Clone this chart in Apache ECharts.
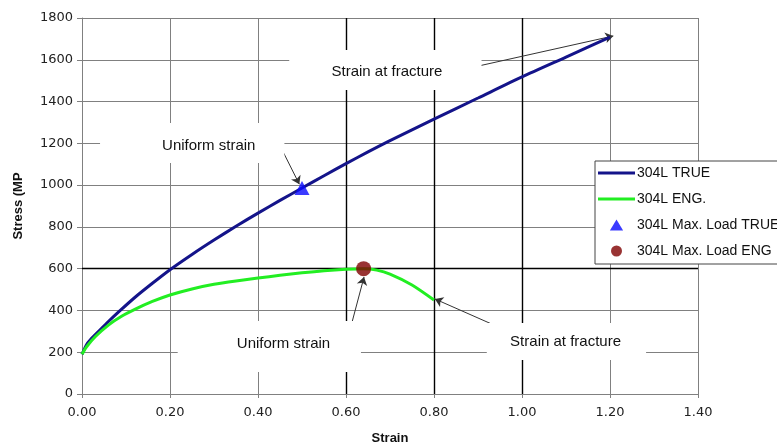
<!DOCTYPE html>
<html><head><meta charset="utf-8">
<script src="https://cdn.jsdelivr.net/npm/echarts@6/dist/echarts.min.js"></script>
<style>html,body{margin:0;padding:0;background:#fff}#c{width:777px;height:443px}</style>
</head><body><div id="c"></div>
<script>
// ---- data ----
const trueStrain = [0, 0.01, 0.02, 0.04, 0.06, 0.087, 0.12, 0.16, 0.2, 0.25, 0.3, 0.35, 0.4, 0.45, 0.5, 0.55, 0.6, 0.65, 0.7, 0.8, 0.9, 1.0, 1.1, 1.2];
const trueStress = [190, 235, 262, 305, 347, 400, 462, 530, 595, 668, 737, 803, 866, 927, 986, 1045, 1103, 1159, 1213, 1316, 1417, 1518, 1613, 1708];
const engStrain = [0, 0.01, 0.03, 0.06, 0.09, 0.12, 0.16, 0.2, 0.25, 0.3, 0.35, 0.4, 0.45, 0.5, 0.55, 0.6, 0.64, 0.67, 0.7, 0.75, 0.8];
const engStress = [190, 225, 274, 330, 372, 405, 443, 474, 503, 525, 541, 555, 568, 580, 590, 597, 600, 593, 574, 522, 450];
const maxLoadTrue = [[0.5, 986]];
const maxLoadEng = [[0.64, 600]];
const seriesNames = ['304L TRUE', '304L ENG.', '304L Max. Load TRUE', '304L Max. Load ENG'];
const xTickLabels = ['0.00', '0.20', '0.40', '0.60', '0.80', '1.00', '1.20', '1.40'];
const emphasisX = [0.6, 0.8, 1.0];
const emphasisY = [600];
// annotations (data coordinates)
const notes = [
  {text: 'Strain at fracture', at: [0.693, 1541], box: [[0.471, 1647], [0.908, 1455]], arrow: [[0.890, 1565], [1.2075, 1714]]},
  {text: 'Uniform strain', at: [0.288, 1187], box: [[0.041, 1297], [0.46, 1106]], arrow: [[0.455, 1168], [0.494, 1004]]},
  {text: 'Uniform strain', at: [0.458, 239], box: [[0.2175, 349], [0.634, 105]], arrow: [[0.612, 330], [0.641, 560]]},
  {text: 'Strain at fracture', at: [1.099, 249], box: [[0.92, 340], [1.282, 163]], arrow: [[0.9515, 316], [0.802, 455]]}
];

const zip = (a, b) => a.map((v, i) => [v, b[i]]);
const chart = echarts.init(document.getElementById('c'), null, {renderer: 'canvas'});
const tickFont = {fontFamily: 'DejaVu Sans', fontSize: 13, color: '#222'};
const lineIcon = 'path://M0,0 L37,0 L37,3 L0,3 Z';
const triIcon = 'path://M6,0 L12,10 L0,10 Z';

chart.setOption({
  animation: false,
  backgroundColor: '#fff',
  grid: {left: 82, top: 18, right: 79, bottom: 49, containLabel: false, outerBoundsMode: 'none'},
  xAxis: {
    type: 'value', min: 0, max: 1.4, interval: 0.2,
    name: 'Strain', nameLocation: 'middle', nameGap: 38,
    nameTextStyle: {fontFamily: 'Liberation Sans', fontWeight: 'bold', fontSize: 13, color: '#111'},
    axisLine: {show: true, lineStyle: {color: '#808080', width: 1}},
    axisTick: {show: true, inside: false, length: 4, lineStyle: {color: '#808080'}},
    axisLabel: Object.assign({margin: 12, formatter: (v) => xTickLabels[Math.round(v / 0.2)]}, tickFont),
    splitLine: {show: true, lineStyle: {color: '#808080', width: 1}}
  },
  yAxis: {
    type: 'value', min: 0, max: 1800, interval: 200,
    name: 'Stress (MP', nameLocation: 'middle', nameGap: 57,
    nameTextStyle: {fontFamily: 'Liberation Sans', fontWeight: 'bold', fontSize: 13, color: '#111'},
    axisLine: {show: true, lineStyle: {color: '#808080', width: 1}},
    axisTick: {show: true, inside: false, length: 5, lineStyle: {color: '#808080'}},
    axisLabel: Object.assign({margin: 9, formatter: (v) => String(v)}, tickFont),
    splitLine: {show: true, lineStyle: {color: '#808080', width: 1}}
  },
  legend: {
    orient: 'vertical', left: 595, top: 161,
    padding: [5, 4, 6, 3], itemGap: 12, itemWidth: 37, itemHeight: 11,
    backgroundColor: '#fff', borderColor: '#444', borderWidth: 1,
    itemStyle: {borderWidth: 0},
    textStyle: {fontFamily: 'Liberation Sans', fontSize: 14, color: '#111', padding: [0, 0, 0, -3]},
    data: [
      {name: seriesNames[0], icon: lineIcon},
      {name: seriesNames[1], icon: lineIcon},
      {name: seriesNames[2], icon: triIcon},
      {name: seriesNames[3], icon: 'circle'}
    ]
  },
  series: [
    {type: 'line', name: '_emph', data: [], z: 2, silent: true,
     markLine: {symbol: 'none', silent: true, label: {show: false}, animation: false,
       lineStyle: {color: '#000', width: 1.4, type: 'solid'},
       data: emphasisX.map(v => ({xAxis: v})).concat(emphasisY.map(v => ({yAxis: v})))}},
    {type: 'line', name: seriesNames[0], data: zip(trueStrain, trueStress), z: 10, symbol: 'none', smooth: 0.25,
     lineStyle: {color: '#14148a', width: 3}, itemStyle: {color: '#14148a'}},
    {type: 'line', name: seriesNames[1], data: zip(engStrain, engStress), z: 10, symbol: 'none', smooth: 0.25,
     lineStyle: {color: '#22ee22', width: 3}, itemStyle: {color: '#22ee22'}},
    {type: 'scatter', name: seriesNames[2], data: maxLoadTrue, z: 11, symbol: 'triangle', symbolSize: [15, 14],
     itemStyle: {color: '#0a0aff'}},
    {type: 'scatter', name: seriesNames[3], data: maxLoadEng, z: 11, symbol: 'circle', symbolSize: 15,
     itemStyle: {color: '#800000'}},
    {type: 'line', name: '_arrows', data: [], z: 12, silent: true,
     markLine: {symbol: ['none', 'arrow'], symbolSize: 8, silent: true, label: {show: false}, animation: false,
       lineStyle: {color: '#333', width: 1, type: 'solid'},
       data: notes.map(n => [{coord: n.arrow[0]}, {coord: n.arrow[1]}])}}
  ]
});

const px = (p) => chart.convertToPixel({gridIndex: 0}, p);
const elements = [];
notes.forEach(n => {
  const a = px(n.box[0]), b = px(n.box[1]);
  elements.push({type: 'rect', z: 5, silent: true,
    shape: {x: Math.min(a[0], b[0]), y: Math.min(a[1], b[1]), width: Math.abs(b[0] - a[0]), height: Math.abs(b[1] - a[1])},
    style: {fill: '#fff'}});
  const t = px(n.at);
  elements.push({type: 'text', z: 15, silent: true, x: t[0], y: t[1],
    style: {text: n.text, fill: '#111', font: '15px "Liberation Sans"', align: 'center', verticalAlign: 'middle'}});
});
chart.setOption({graphic: {elements: elements}});
</script></body></html>
